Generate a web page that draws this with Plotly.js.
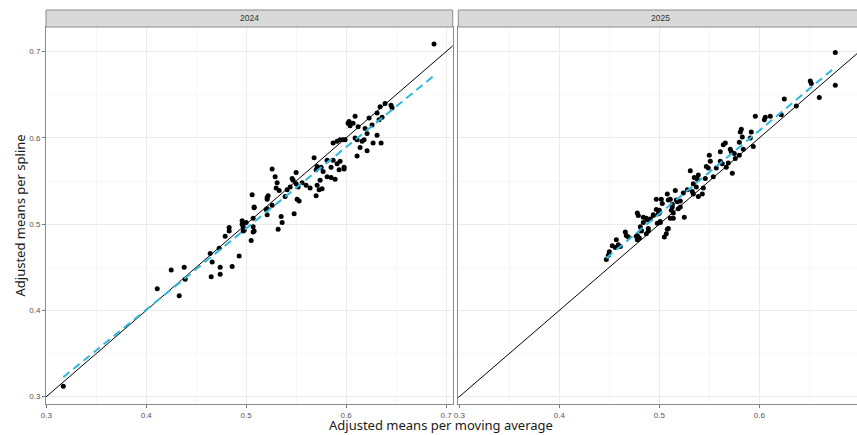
<!DOCTYPE html>
<html>
<head>
<meta charset="utf-8">
<script src="https://cdn.plot.ly/plotly-3.0.1.min.js"></script>
<style>html,body{margin:0;padding:0;background:#fff;}#chart{width:857px;height:435px;}</style>
</head>
<body>
<div id="chart"></div>
<script>
// ---- Data ----
const facets = ["2024", "2025"];

const x2024 = [0.317,0.411,0.425,0.433,0.438,0.439,0.464,0.466,0.465,0.473,0.474,0.474,0.479,0.483,0.506,0.521,0.508,0.521,0.496,0.500,0.483,0.497,0.498,0.508,0.505,0.493,0.486,
0.602,0.604,0.591,0.594,0.597,0.587,0.568,0.571,0.575,0.570,0.577,0.574,0.581,0.587,0.585,0.591,0.593,0.598,0.581,0.585,0.589,0.571,0.573,0.576,0.570,0.564,0.560,0.556,0.550,0.546,0.547,0.550,0.552,0.544,0.541,0.539,0.551,0.553,0.548,0.535,0.536,0.532,0.526,0.529,0.531,0.530,0.533,0.522,0.521,0.526,0.520,0.521,0.508,0.507,0.507,0.496,0.497,0.507,
0.639,0.634,0.645,0.646,0.631,0.623,0.636,0.633,0.609,0.603,0.607,0.626,0.612,0.619,0.621,0.631,0.599,0.609,0.611,0.616,0.618,0.614,0.621,0.627,0.635,0.611,0.594,0.598,0.688];
const y2024 = [0.312,0.425,0.447,0.417,0.450,0.436,0.466,0.456,0.439,0.472,0.450,0.442,0.486,0.492,0.534,0.531,0.519,0.518,0.504,0.502,0.496,0.497,0.493,0.492,0.481,0.463,0.451,
0.617,0.614,0.596,0.598,0.598,0.594,0.577,0.567,0.566,0.563,0.561,0.551,0.574,0.574,0.566,0.570,0.563,0.564,0.555,0.554,0.552,0.545,0.540,0.541,0.533,0.542,0.545,0.548,0.560,0.553,0.551,0.547,0.543,0.543,0.540,0.532,0.529,0.527,0.512,0.509,0.502,0.494,0.564,0.555,0.548,0.542,0.539,0.533,0.529,0.522,0.517,0.511,0.520,0.507,0.497,0.500,0.492,0.491,
0.640,0.636,0.638,0.635,0.629,0.623,0.624,0.621,0.625,0.619,0.617,0.615,0.613,0.611,0.605,0.603,0.598,0.600,0.598,0.596,0.598,0.589,0.585,0.594,0.594,0.579,0.573,0.566,0.709];

const x2025 = [0.676,0.676,0.660,0.651,0.652,0.637,0.625,0.622,0.611,0.606,0.605,0.596,0.594,0.592,0.591,0.582,0.581,0.583,0.580,0.584,0.566,0.564,0.571,0.572,0.575,0.561,0.576,0.580,0.550,0.551,0.547,0.549,0.561,0.563,0.569,0.567,0.557,0.554,0.573,0.531,0.539,0.538,0.535,0.546,0.544,0.534,0.537,0.528,0.533,0.534,0.543,0.539,
0.516,0.508,0.511,0.502,0.503,0.497,0.513,0.518,0.521,0.521,0.524,0.519,0.525,0.514,0.511,0.500,0.499,0.494,0.488,0.487,0.478,0.479,0.484,0.481,0.482,0.489,0.501,0.508,0.507,0.505,0.466,0.467,0.477,0.457,0.449,0.447,0.453,0.459,0.461,0.469,0.478,0.480,0.482,0.487,0.489,0.491,0.484,0.494,0.497,0.500,0.509,0.517,0.513,0.512,0.514,0.509,0.501,0.498,0.450,0.456,0.478];
const y2025 = [0.699,0.661,0.647,0.666,0.663,0.637,0.645,0.627,0.625,0.624,0.621,0.625,0.590,0.607,0.600,0.610,0.607,0.601,0.595,0.587,0.594,0.592,0.587,0.584,0.582,0.584,0.576,0.580,0.580,0.573,0.567,0.565,0.573,0.570,0.571,0.566,0.565,0.555,0.559,0.562,0.557,0.552,0.554,0.553,0.542,0.547,0.543,0.540,0.538,0.535,0.535,0.532,
0.539,0.535,0.529,0.529,0.524,0.529,0.523,0.526,0.527,0.520,0.536,0.518,0.508,0.513,0.507,0.516,0.512,0.510,0.505,0.507,0.513,0.510,0.502,0.497,0.492,0.492,0.502,0.494,0.489,0.485,0.491,0.487,0.486,0.482,0.464,0.459,0.475,0.476,0.474,0.485,0.487,0.484,0.493,0.489,0.495,0.506,0.508,0.511,0.517,0.513,0.528,0.528,0.520,0.516,0.507,0.495,0.503,0.501,0.468,0.473,0.482];

const identityLimits = [0.25, 0.75];
const xTicks = [0.3, 0.4, 0.5, 0.6, 0.7];
const yTicks = [0.3, 0.4, 0.5, 0.6, 0.7];

// ---- Least-squares fit (geom_smooth method = "lm") ----
function lmLine(xs, ys) {
  const n = xs.length;
  const mx = xs.reduce((a, b) => a + b, 0) / n;
  const my = ys.reduce((a, b) => a + b, 0) / n;
  let sxy = 0, sxx = 0;
  for (let i = 0; i < n; i++) { sxy += (xs[i] - mx) * (ys[i] - my); sxx += (xs[i] - mx) ** 2; }
  const b = sxy / sxx, a = my - b * mx;
  const x0 = Math.min(...xs), x1 = Math.max(...xs);
  return { x: [x0, x1], y: [a + b * x0, a + b * x1] };
}

const panels = [
  { xs: x2024, ys: y2024, xa: 'x', ya: 'y' },
  { xs: x2025, ys: y2025, xa: 'x2', ya: 'y2' }
];

const traces = [];
panels.forEach(p => {
  traces.push({
    x: identityLimits, y: identityLimits, xaxis: p.xa, yaxis: p.ya,
    mode: 'lines', line: { color: '#000000', width: 1 }, hoverinfo: 'skip', showlegend: false
  });
  traces.push({
    x: p.xs, y: p.ys, xaxis: p.xa, yaxis: p.ya, type: 'scatter',
    mode: 'markers', marker: { color: '#000000', size: 5 }, showlegend: false
  });
  const f = lmLine(p.xs, p.ys);
  traces.push({
    x: f.x, y: f.y, xaxis: p.xa, yaxis: p.ya,
    mode: 'lines', line: { color: '#2FB8DD', width: 2, dash: '8px,5px' }, hoverinfo: 'skip', showlegend: false
  });
});

const gridCol = '#EBEBEB';
const borderCol = '#8C8C8C';
const tickFont = { family: 'Liberation Sans, Arial, sans-serif', size: 8, color: '#555555' };

function xAxis(domain, range, anchor) {
  return {
    domain: domain, range: range, anchor: anchor,
    tickvals: xTicks, ticktext: xTicks.map(v => v.toFixed(1)),
    ticks: 'outside', ticklen: 3, tickcolor: '#555555', tickwidth: 0.8,
    tickfont: tickFont, showgrid: true, gridcolor: gridCol, gridwidth: 1,
    minor: { dtick: 0.05, tick0: 0.25, showgrid: true, gridcolor: '#F2F2F2', gridwidth: 0.6, ticks: '' },
    showline: true, mirror: true, linecolor: borderCol, linewidth: 1, zeroline: false
  };
}
function yAxis(anchor, labels) {
  return {
    domain: [0, 1], range: [0.2915, 0.7286], anchor: anchor,
    tickvals: yTicks, ticktext: yTicks.map(v => v.toFixed(1)),
    ticks: labels ? 'outside' : '', ticklen: 3, tickcolor: '#555555', tickwidth: 0.8,
    showticklabels: labels, tickfont: tickFont, showgrid: true, gridcolor: gridCol, gridwidth: 1,
    minor: { dtick: 0.05, tick0: 0.25, showgrid: true, gridcolor: '#F2F2F2', gridwidth: 0.6, ticks: '' },
    showline: true, mirror: true, linecolor: borderCol, linewidth: 1, zeroline: false
  };
}

const d1 = [0, 0.5015], d2 = [0.5084, 1];
const stripTop = 1.0451;

const layout = {
  width: 857, height: 435,
  margin: { l: 46, r: 0, t: 27, b: 31, pad: 0 },
  paper_bgcolor: '#ffffff', plot_bgcolor: '#ffffff',
  showlegend: false,
  xaxis: xAxis(d1, [0.2997, 0.7067], 'y'),
  xaxis2: xAxis(d2, [0.299, 0.6977], 'y2'),
  yaxis: yAxis('x', true),
  yaxis2: yAxis('x2', false),
  shapes: [
    { type: 'rect', xref: 'paper', yref: 'paper', x0: d1[0], x1: d1[1], y0: 1, y1: stripTop, fillcolor: '#D9D9D9', line: { color: borderCol, width: 1 } },
    { type: 'rect', xref: 'paper', yref: 'paper', x0: d2[0], x1: d2[1] + 0.01, y0: 1, y1: stripTop, fillcolor: '#D9D9D9', line: { color: borderCol, width: 1 } }
  ],
  annotations: [
    { text: facets[0], xref: 'paper', yref: 'paper', x: (d1[0] + d1[1]) / 2, y: (1 + stripTop) / 2, showarrow: false, xanchor: 'center', yanchor: 'middle', font: { family: 'Liberation Sans, Arial, sans-serif', size: 8.5, color: '#333333' } },
    { text: facets[1], xref: 'paper', yref: 'paper', x: (d2[0] + d2[1]) / 2 + 0.004, y: (1 + stripTop) / 2, showarrow: false, xanchor: 'center', yanchor: 'middle', font: { family: 'Liberation Sans, Arial, sans-serif', size: 8.5, color: '#333333' } },
    { text: 'Adjusted means per moving average', xref: 'paper', yref: 'paper', x: (441 - 46) / 811, y: -0.056, xanchor: 'center', yanchor: 'middle', showarrow: false, font: { family: 'Noto Sans, sans-serif', size: 13, color: '#1a1a1a' } },
    { text: 'Adjusted means per spline', xref: 'paper', yref: 'paper', x: (19 - 46) / 811, y: 0.5, xanchor: 'center', yanchor: 'middle', textangle: -90, showarrow: false, font: { family: 'Noto Sans, sans-serif', size: 13, color: '#1a1a1a' } }
  ]
};

Plotly.newPlot('chart', traces, layout, { displayModeBar: false, staticPlot: true });
</script>
</body>
</html>
